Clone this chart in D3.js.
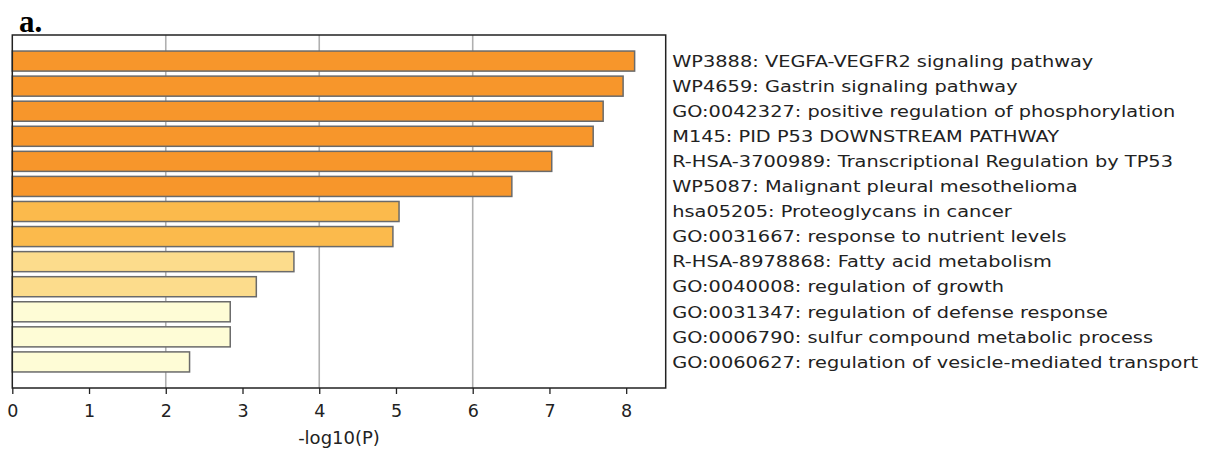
<!DOCTYPE html>
<html><head><meta charset="utf-8">
<script src="https://cdn.jsdelivr.net/npm/d3@7"></script>
<style>body{margin:0;background:#fff}svg{display:block}</style>
</head><body>
<script>
const terms = [
  "WP3888: VEGFA-VEGFR2 signaling pathway",
  "WP4659: Gastrin signaling pathway",
  "GO:0042327: positive regulation of phosphorylation",
  "M145: PID P53 DOWNSTREAM PATHWAY",
  "R-HSA-3700989: Transcriptional Regulation by TP53",
  "WP5087: Malignant pleural mesothelioma",
  "hsa05205: Proteoglycans in cancer",
  "GO:0031667: response to nutrient levels",
  "R-HSA-8978868: Fatty acid metabolism",
  "GO:0040008: regulation of growth",
  "GO:0031347: regulation of defense response",
  "GO:0006790: sulfur compound metabolic process",
  "GO:0060627: regulation of vesicle-mediated transport"
];
const values = [8.11, 7.96, 7.70, 7.57, 7.03, 6.51, 5.04, 4.96, 3.67, 3.18, 2.84, 2.84, 2.31];
const colorGroup = [0,0,0,0,0,0,1,1,2,2,3,3,3];
const palette = ["#F7962B", "#FBBA4C", "#FCDC8C", "#FEFCD6"];
const xTicks = [0,1,2,3,4,5,6,7,8];
const gridTicks = [2,4,6];
const xLabel = "-log10(P)";
const panelLabel = "a.";

const W = 1219, H = 449;
const m = {left: 12.3, right: 665.7, top: 35, bottom: 388};
const svg = d3.select("body").append("svg").attr("width", W).attr("height", H);

const x = d3.scaleLinear().domain([0, 8.515]).range([m.left, m.right]);
const y = d3.scaleBand().domain(terms).range([m.top, m.bottom]).paddingInner(0.2).paddingOuter(0.64);

// grid
svg.append("g").selectAll("line").data(gridTicks).join("line")
  .attr("x1", d => x(d)).attr("x2", d => x(d))
  .attr("y1", m.top).attr("y2", m.bottom)
  .attr("stroke", "#b0b0b0").attr("stroke-width", 1.6);

// bars
svg.append("g").selectAll("rect").data(values).join("rect")
  .attr("x", x(0))
  .attr("y", (d,i) => y(terms[i]))
  .attr("width", d => x(d) - x(0))
  .attr("height", y.bandwidth())
  .attr("fill", (d,i) => palette[colorGroup[i]])
  .attr("stroke", "#6a6a6a").attr("stroke-width", 1.5);

// frame
svg.append("rect").attr("x", m.left).attr("y", m.top)
  .attr("width", m.right - m.left).attr("height", m.bottom - m.top)
  .attr("fill", "none").attr("stroke", "#222").attr("stroke-width", 1.5);

// x axis
const xAxis = d3.axisBottom(x).tickValues(xTicks).tickFormat(d3.format("d")).tickSize(6).tickPadding(11);
const gx = svg.append("g").attr("transform", `translate(0,${m.bottom})`).call(xAxis);
gx.select(".domain").remove();
gx.selectAll(".tick line").attr("stroke", "#222").attr("stroke-width", 1.3);
gx.selectAll(".tick text").attr("fill", "#222")
  .style("font-family", "DejaVu Sans").style("font-size", "17.5px");

svg.append("text").attr("x", (m.left + m.right)/2).attr("y", 444)
  .attr("text-anchor", "middle").attr("fill", "#222")
  .style("font-family", "DejaVu Sans").style("font-size", "18px")
  .text(xLabel);

// term labels (right), horizontally stretched like the reference
const lx = m.right + 6.5, sx = 1.21;
svg.append("g").attr("transform", `translate(${lx},0) scale(${sx},1)`)
  .selectAll("text").data(terms).join("text")
  .attr("x", 0)
  .attr("y", d => y(d) + y.bandwidth()/2)
  .attr("dy", "0.36em")
  .attr("fill", "#222")
  .style("font-family", "DejaVu Sans").style("font-size", "16px")
  .text(d => d);

// panel label
svg.append("text").attr("x", 19).attr("y", 31.5)
  .attr("fill", "#000")
  .style("font-family", "Liberation Serif").style("font-weight", "bold").style("font-size", "31px")
  .text(panelLabel);
</script>
</body></html>
